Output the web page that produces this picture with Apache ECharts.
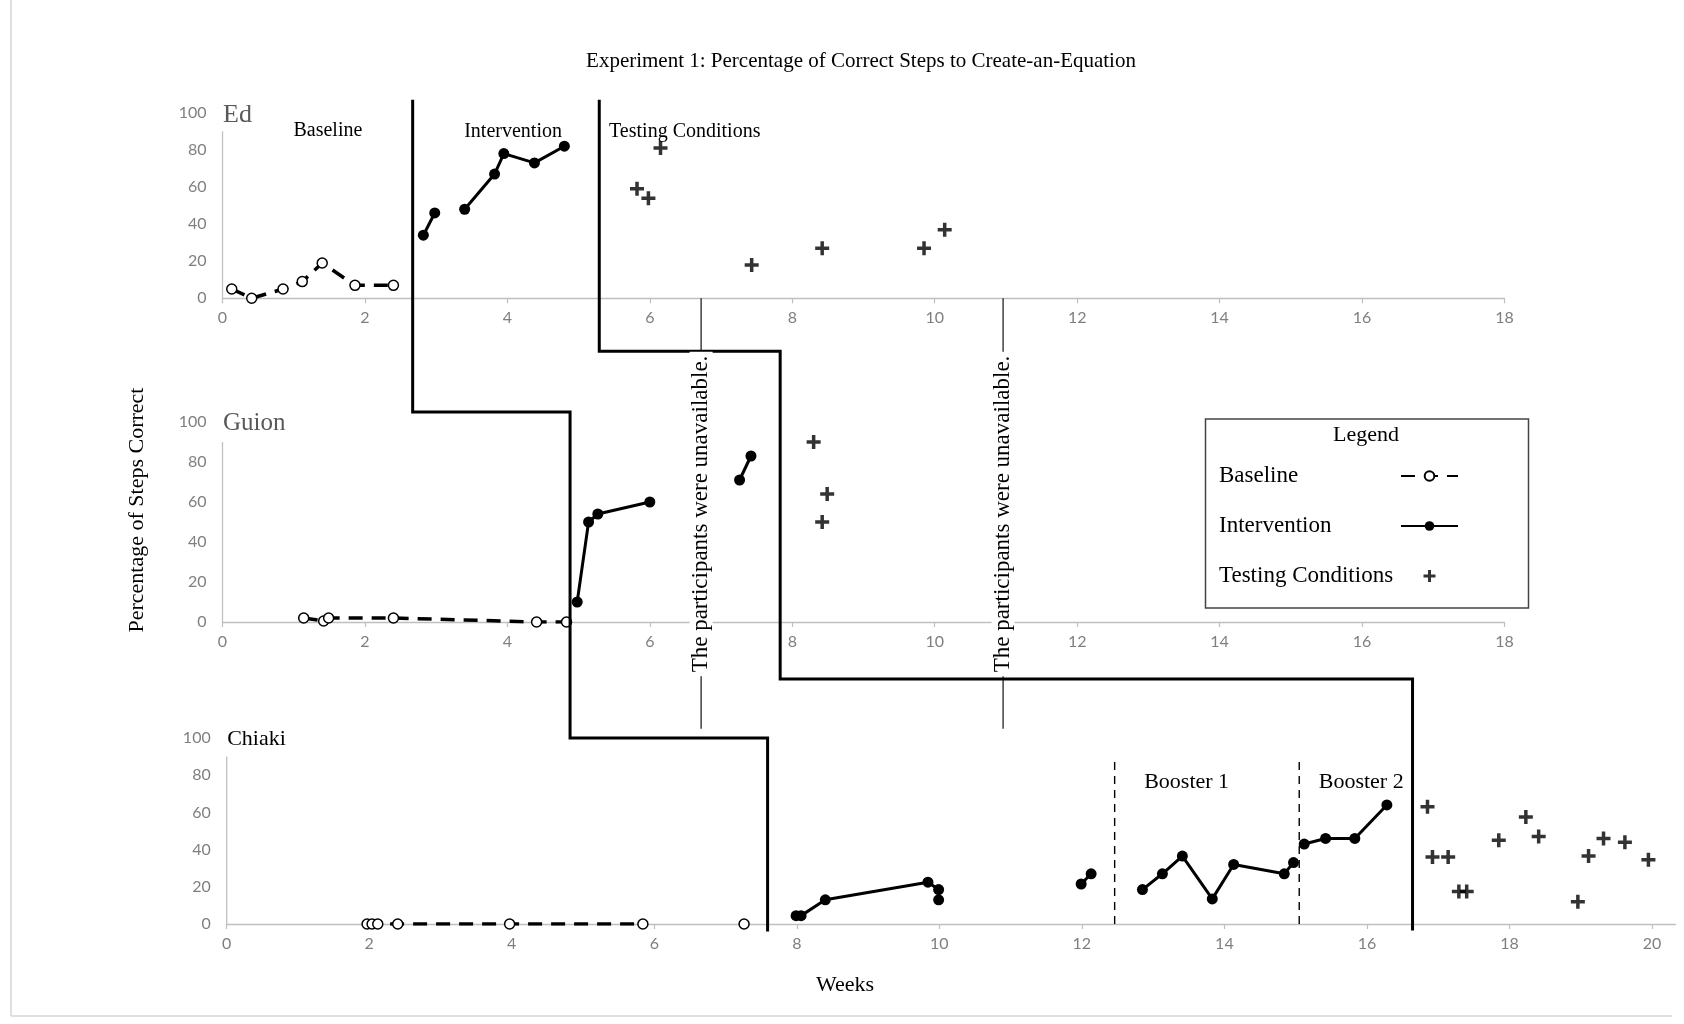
<!DOCTYPE html>
<html>
<head>
<meta charset="utf-8">
<title>Experiment 1: Percentage of Correct Steps to Create-an-Equation</title>
<script src="https://cdn.jsdelivr.net/npm/echarts@6/dist/echarts.min.js"></script>
<style>
  html, body { margin: 0; padding: 0; background: #fff; }
  #chart { width: 1684px; height: 1024px; }
</style>
</head>
<body>
<div id="chart"></div>
<script>
// ---- Data: weeks (x) and percentage of correct steps (y) ----
const participants = ['Ed', 'Guion', 'Chiaki'];

const weekTicksShort = [0, 2, 4, 6, 8, 10, 12, 14, 16, 18];
const weekTicksLong = [0, 2, 4, 6, 8, 10, 12, 14, 16, 18, 20];
const percentTicks = [0, 20, 40, 60, 80, 100];

// Each participant's phases are lists of connected segments.
const edBaseline = [
  [[0.13, 5], [0.41, 0], [0.85, 5], [1.12, 9], [1.40, 19], [1.86, 7], [2.40, 7]]
];
const edIntervention = [
  [[2.82, 34], [2.98, 46]],
  [[3.40, 48], [3.82, 67], [3.95, 78], [4.38, 73], [4.80, 82]]
];
const edTesting = [[5.82, 59], [5.98, 54], [6.15, 81], [7.43, 18], [8.42, 27], [9.85, 27], [10.14, 37]];

const guionBaseline = [
  [[1.14, 2], [1.42, 0.5], [1.49, 2], [2.40, 2], [4.41, 0], [4.83, 0]]
];
const guionIntervention = [
  [[4.98, 10], [5.14, 50], [5.27, 54], [6.00, 60]],
  [[7.26, 71], [7.42, 83]]
];
const guionTesting = [[8.30, 90], [8.42, 50], [8.49, 64]];

const chiakiBaseline = [
  [[1.97, 0], [2.04, 0], [2.12, 0], [2.40, 0], [3.97, 0], [5.84, 0]],
  [[7.26, 0]]
];
const chiakiIntervention = [
  [[7.99, 4.5], [8.06, 4.5], [8.40, 13], [9.84, 22.5], [9.99, 18.5], [9.99, 13]],
  [[11.99, 21.5], [12.13, 27]],
  [[12.85, 18.5], [13.13, 27], [13.41, 36.5], [13.83, 13.5], [14.13, 32], [14.84, 27], [14.97, 33]],
  [[15.12, 43], [15.42, 46], [15.83, 46], [16.28, 64]]
];
const chiakiTesting = [[16.85, 63], [16.92, 36], [17.14, 36], [17.29, 17.5], [17.40, 17.5], [17.85, 45],
  [18.23, 57.5], [18.41, 47], [18.96, 12], [19.11, 36.5], [19.32, 46], [19.62, 44], [19.95, 34.5]];

// Phase-change weeks per participant (Ed, Guion, Chiaki)
const phaseChangeIntervention = [2.67, 4.88, 7.59];
const phaseChangeTesting = [5.29, 7.83, 16.64];
const unavailableWeeks = [6.72, 10.96];
const boosterWeeks = [12.46, 15.05];
const boosterLabels = ['Booster 1', 'Booster 2'];
const boosterLabelWeeks = [13.47, 15.92];

// ---- Styling ----
const SERIF = '"Liberation Serif", "Times New Roman", serif';
const SANS = 'Lato, "Open Sans", "Liberation Sans", sans-serif';
const AXIS_GRAY = '#bfbfbf';
const LABEL_GRAY = '#7f7f7f';
const PLUS = 'path://M3.75,0H6.25V3.75H10V6.25H6.25V10H3.75V6.25H0V3.75H3.75Z';

const panelData = [
  { baseline: edBaseline, intervention: edIntervention, testing: edTesting },
  { baseline: guionBaseline, intervention: guionIntervention, testing: guionTesting },
  { baseline: chiakiBaseline, intervention: chiakiIntervention, testing: chiakiTesting }
];

const grids = [
  { left: 222.5, top: 112.8, width: 1282, height: 185.5 },
  { left: 222.5, top: 422, width: 1282, height: 200 },
  { left: 226.7, top: 738, width: 1448.8, height: 186 }
];
const xMax = [18, 18, 20.33];
const xTicks = [weekTicksShort, weekTicksShort, weekTicksLong];

const xAxes = grids.map((g, i) => ({
  type: 'value', gridIndex: i, min: 0, max: xMax[i],
  axisLine: { show: true, onZero: true, lineStyle: { color: AXIS_GRAY, width: 1.3 } },
  axisTick: { show: true, length: 5, customValues: xTicks[i], lineStyle: { color: AXIS_GRAY, width: 1.2 } },
  axisLabel: { customValues: xTicks[i], color: LABEL_GRAY, fontFamily: SANS, fontSize: 16, margin: 12 },
  splitLine: { show: false }
}));
const yAxes = grids.map((g, i) => ({
  type: 'value', gridIndex: i, min: 0, max: 100,
  axisLine: { show: false },
  axisTick: { show: false },
  axisLabel: { customValues: percentTicks, color: LABEL_GRAY, fontFamily: SANS, fontSize: 16, margin: 16 },
  splitLine: { show: false }
}));

const series = [];
panelData.forEach((p, i) => {
  p.baseline.forEach(seg => series.push({
    name: 'Baseline', type: 'line', xAxisIndex: i, yAxisIndex: i, data: seg,
    symbol: 'circle', symbolSize: 10, showSymbol: true,
    lineStyle: { color: '#000', width: 3.5, type: [14, 9] },
    itemStyle: { color: '#fff', borderColor: '#000', borderWidth: 1.5 },
    z: 3
  }));
  p.intervention.forEach(seg => series.push({
    name: 'Intervention', type: 'line', xAxisIndex: i, yAxisIndex: i, data: seg,
    symbol: 'circle', symbolSize: 11, showSymbol: true,
    lineStyle: { color: '#000', width: 3 },
    itemStyle: { color: '#000' },
    z: 3
  }));
  series.push({
    name: 'Testing Conditions', type: 'scatter', xAxisIndex: i, yAxisIndex: i, data: p.testing,
    symbol: PLUS, symbolSize: 14, itemStyle: { color: '#000' }, z: 3
  });
});

const chart = echarts.init(document.getElementById('chart'));
chart.setOption({
  animation: false,
  backgroundColor: '#fff',
  grid: grids,
  xAxis: xAxes,
  yAxis: yAxes,
  legend: {
    data: ['Baseline', 'Intervention', 'Testing Conditions'],
    orient: 'vertical', left: 1214, top: 459, align: 'right',
    itemWidth: 57, itemHeight: 12, itemGap: 26, selectedMode: false,
    formatter: '{a|{name}}',
    textStyle: {
      fontFamily: SERIF, fontSize: 23, color: '#000', lineHeight: 24,
      rich: { a: { width: 177, align: 'left', fontFamily: SERIF, fontSize: 23, color: '#000', lineHeight: 24 } }
    }
  },
  series: series
});

// ---- Annotations placed through each panel's coordinate system ----
const pt = (g, x, y) => chart.convertToPixel({ gridIndex: g }, [x, y]);
const graphics = [];

function text(x, y, str, size, opts) {
  graphics.push(Object.assign({
    type: 'text', x: x, y: y, z: 20,
    style: Object.assign({
      text: str, fontFamily: SERIF, fontSize: size, fill: '#000',
      align: 'center', verticalAlign: 'middle'
    }, (opts && opts.style) || {})
  }, (opts && opts.el) || {}));
}
function line(x1, y1, x2, y2, width, color, dash) {
  graphics.push({
    type: 'line', z: 10,
    shape: { x1: x1, y1: y1, x2: x2, y2: y2 },
    style: { stroke: color, lineWidth: width, lineDash: dash || null }
  });
}

// y axis lines (they stop short of the 100 label)
grids.forEach((g, i) => {
  const a = pt(i, 0, 0), b = pt(i, 0, 90);
  line(a[0], a[1], b[0], b[1], 1.3, AXIS_GRAY);
});

// Phase-change step lines
function stepLine(weeks, top, step1, step2, bottom) {
  const xs = weeks.map((w, i) => pt(i, w, 0)[0]);
  graphics.push({
    type: 'polyline', z: 12,
    shape: { points: [[xs[0], top], [xs[0], step1], [xs[1], step1], [xs[1], step2], [xs[2], step2], [xs[2], bottom]] },
    style: { stroke: '#000', lineWidth: 3, fill: null }
  });
}
const yTop = pt(0, 0, 107)[1];
stepLine(phaseChangeIntervention, yTop, pt(1, 0, 105)[1], pt(2, 0, 100)[1], pt(2, 0, -4)[1]);
stepLine(phaseChangeTesting, yTop, pt(0, 0, -28.5)[1], pt(1, 0, -28.5)[1], pt(2, 0, -3.5)[1]);

// Weeks when the participants were unavailable
unavailableWeeks.forEach(w => {
  const x = pt(0, w, 0)[0];
  line(x, pt(0, 0, 0)[1], x, pt(2, 0, 105)[1], 1.3, '#222');
  text(x, pt(1, 0, 54)[1], 'The participants were unavailable.', 23, {
    el: { rotation: Math.PI / 2 },
    style: { backgroundColor: '#fff', padding: [0, 4] }
  });
});

// Booster sessions for Chiaki
boosterWeeks.forEach(w => {
  const a = pt(2, w, 0), b = pt(2, w, 89);
  line(a[0], a[1], b[0], b[1], 1.4, '#000', [8, 6]);
});
boosterLabels.forEach((s, i) => {
  const p = pt(2, boosterLabelWeeks[i], 76);
  text(p[0], p[1], s, 22);
});

// Phase names on the top panel
[['Baseline', 1.48, 90.4], ['Intervention', 4.08, 90], ['Testing Conditions', 6.49, 89.6]].forEach(d => {
  const p = pt(0, d[1], d[2]);
  text(p[0], p[1], d[0], 20);
});

// Participant names
const nameStyles = [
  { size: 26, color: '#595959', y: 98.8 },
  { size: 25, color: '#595959', y: 99.5 },
  { size: 22, color: '#000', y: 99.5 }
];
participants.forEach((n, i) => {
  const p = pt(i, 0, nameStyles[i].y);
  text(p[0] + 0.5, p[1], n, nameStyles[i].size, { style: { align: 'left', fill: nameStyles[i].color } });
});

// Titles
text(861, 61, 'Experiment 1: Percentage of Correct Steps to Create-an-Equation', 21);
text(137, 510, 'Percentage of Steps Correct', 22, { el: { rotation: Math.PI / 2 } });
text(845, 985, 'Weeks', 22);

// Legend frame
graphics.push({
  type: 'rect', z: 5,
  shape: { x: 1205.5, y: 419, width: 323, height: 189 },
  style: { stroke: '#444', lineWidth: 1.5, fill: null }
});
text(1366, 435, 'Legend', 22);

// Outer frame
line(11, 0, 11, 1016, 1.5, '#d4d4d4');
line(11, 1016, 1672, 1016, 1.5, '#d4d4d4');

chart.setOption({ graphic: graphics });
</script>
</body>
</html>
